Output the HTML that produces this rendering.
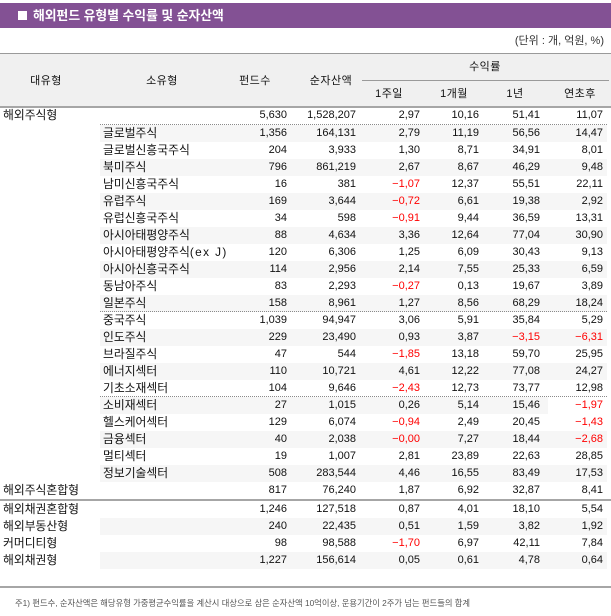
<!DOCTYPE html>
<html><head><meta charset="utf-8">
<style>
*{margin:0;padding:0;box-sizing:border-box}
html,body{width:611px;height:616px;background:#fff;overflow:hidden}
body{position:relative;font-family:"Liberation Sans","Noto Sans CJK KR",sans-serif;font-size:11px;color:#111}
.abs{position:absolute}
.title{left:0;top:3px;width:611px;height:25px;background:#835194;color:#fff;font-weight:bold;font-size:12.8px;line-height:25px;white-space:nowrap}
.sq{position:absolute;left:18px;top:8px;width:9px;height:9px;background:#fff}
.unit{right:7px;top:33px;font-size:11px;line-height:16px;color:#333;white-space:nowrap}
.hdr{left:0;top:54px;width:611px;height:53px;background:#f0f0f0}
.hl{left:0;width:611px;height:2px;background:#a6a6a6}
.h{position:absolute;line-height:16px;white-space:nowrap;transform:translateX(-50%);letter-spacing:0.5px}
.row{position:absolute;left:0;width:611px;height:17px;line-height:17px;white-space:nowrap}
.row>span{position:absolute;top:0}
.st{position:absolute;left:100px;width:507px;height:17px;background:#f6f6f6}
.dot{position:absolute;left:100px;width:507px;height:0;border-top:1px dotted #8a8a8a}
.r{color:#f00}
.c1{right:324px}.c2{right:255px}.c3{right:191px}.c4{right:132px}.c5{right:71px}.c6{right:8px}
.l1{left:3px;font-size:11.8px}.l2{left:103px;font-size:11.8px}
.foot{left:15px;top:596px;font-size:8.3px;line-height:14px;color:#555;white-space:nowrap}
</style></head><body>
<div class="abs title"><div class="sq"></div><span style="position:absolute;left:33px">해외펀드 유형별 수익률 및 순자산액</span></div>
<div class="abs unit">(단위 : 개, 억원, %)</div>
<div class="abs hdr"></div>
<div class="abs hl" style="top:53px;height:1px;background:#9a9a9a"></div>
<div class="abs hl" style="top:106px"></div>
<div class="abs" style="left:362px;top:80px;width:247px;height:1px;background:#9a9a9a"></div>
<div class="h" style="left:46px;top:73px">대유형</div>
<div class="h" style="left:162px;top:73px">소유형</div>
<div class="h" style="left:255px;top:73px">펀드수</div>
<div class="h" style="left:331px;top:73px">순자산액</div>
<div class="h" style="left:485px;top:59px">수익률</div>
<div class="h" style="left:389px;top:86px">1주일</div>
<div class="h" style="left:454px;top:86px">1개월</div>
<div class="h" style="left:515px;top:86px">1년</div>
<div class="h" style="left:580px;top:86px">연초후</div>

<!-- stripes -->
<div class="st" style="top:125px"></div>
<div class="st" style="top:159px"></div>
<div class="st" style="top:193px"></div>
<div class="st" style="top:227px"></div>
<div class="st" style="top:261px"></div>
<div class="st" style="top:295px"></div>
<div class="st" style="top:329px"></div>
<div class="st" style="top:363px"></div>
<div class="st" style="top:397px;width:448px"></div>
<div class="st" style="top:431px"></div>
<div class="st" style="top:465px"></div>
<div class="st" style="top:518px"></div>
<div class="st" style="top:552px"></div>

<div class="dot" style="top:124px"></div>
<div class="dot" style="top:311px"></div>
<div class="dot" style="top:396px"></div>

<div class="row" style="top:107px"><span class="l1">해외주식형</span><span class="c1">5,630</span><span class="c2">1,528,207</span><span class="c3">2,97</span><span class="c4">10,16</span><span class="c5">51,41</span><span class="c6">11,07</span></div>
<div class="row" style="top:125px"><span class="l2">글로벌주식</span><span class="c1">1,356</span><span class="c2">164,131</span><span class="c3">2,79</span><span class="c4">11,19</span><span class="c5">56,56</span><span class="c6">14,47</span></div>
<div class="row" style="top:142px"><span class="l2">글로벌신흥국주식</span><span class="c1">204</span><span class="c2">3,933</span><span class="c3">1,30</span><span class="c4">8,71</span><span class="c5">34,91</span><span class="c6">8,01</span></div>
<div class="row" style="top:159px"><span class="l2">북미주식</span><span class="c1">796</span><span class="c2">861,219</span><span class="c3">2,67</span><span class="c4">8,67</span><span class="c5">46,29</span><span class="c6">9,48</span></div>
<div class="row" style="top:176px"><span class="l2">남미신흥국주식</span><span class="c1">16</span><span class="c2">381</span><span class="c3 r">−1,07</span><span class="c4">12,37</span><span class="c5">55,51</span><span class="c6">22,11</span></div>
<div class="row" style="top:193px"><span class="l2">유럽주식</span><span class="c1">169</span><span class="c2">3,644</span><span class="c3 r">−0,72</span><span class="c4">6,61</span><span class="c5">19,38</span><span class="c6">2,92</span></div>
<div class="row" style="top:210px"><span class="l2">유럽신흥국주식</span><span class="c1">34</span><span class="c2">598</span><span class="c3 r">−0,91</span><span class="c4">9,44</span><span class="c5">36,59</span><span class="c6">13,31</span></div>
<div class="row" style="top:227px"><span class="l2">아시아태평양주식</span><span class="c1">88</span><span class="c2">4,634</span><span class="c3">3,36</span><span class="c4">12,64</span><span class="c5">77,04</span><span class="c6">30,90</span></div>
<div class="row" style="top:244px"><span class="l2">아시아태평양주식<span style="letter-spacing:1.4px">(ex J)</span></span><span class="c1">120</span><span class="c2">6,306</span><span class="c3">1,25</span><span class="c4">6,09</span><span class="c5">30,43</span><span class="c6">9,13</span></div>
<div class="row" style="top:261px"><span class="l2">아시아신흥국주식</span><span class="c1">114</span><span class="c2">2,956</span><span class="c3">2,14</span><span class="c4">7,55</span><span class="c5">25,33</span><span class="c6">6,59</span></div>
<div class="row" style="top:278px"><span class="l2">동남아주식</span><span class="c1">83</span><span class="c2">2,293</span><span class="c3 r">−0,27</span><span class="c4">0,13</span><span class="c5">19,67</span><span class="c6">3,89</span></div>
<div class="row" style="top:295px"><span class="l2">일본주식</span><span class="c1">158</span><span class="c2">8,961</span><span class="c3">1,27</span><span class="c4">8,56</span><span class="c5">68,29</span><span class="c6">18,24</span></div>
<div class="row" style="top:312px"><span class="l2">중국주식</span><span class="c1">1,039</span><span class="c2">94,947</span><span class="c3">3,06</span><span class="c4">5,91</span><span class="c5">35,84</span><span class="c6">5,29</span></div>
<div class="row" style="top:329px"><span class="l2">인도주식</span><span class="c1">229</span><span class="c2">23,490</span><span class="c3">0,93</span><span class="c4">3,87</span><span class="c5 r">−3,15</span><span class="c6 r">−6,31</span></div>
<div class="row" style="top:346px"><span class="l2">브라질주식</span><span class="c1">47</span><span class="c2">544</span><span class="c3 r">−1,85</span><span class="c4">13,18</span><span class="c5">59,70</span><span class="c6">25,95</span></div>
<div class="row" style="top:363px"><span class="l2">에너지섹터</span><span class="c1">110</span><span class="c2">10,721</span><span class="c3">4,61</span><span class="c4">12,22</span><span class="c5">77,08</span><span class="c6">24,27</span></div>
<div class="row" style="top:380px"><span class="l2">기초소재섹터</span><span class="c1">104</span><span class="c2">9,646</span><span class="c3 r">−2,43</span><span class="c4">12,73</span><span class="c5">73,77</span><span class="c6">12,98</span></div>
<div class="row" style="top:397px"><span class="l2">소비재섹터</span><span class="c1">27</span><span class="c2">1,015</span><span class="c3">0,26</span><span class="c4">5,14</span><span class="c5">15,46</span><span class="c6 r">−1,97</span></div>
<div class="row" style="top:414px"><span class="l2">헬스케어섹터</span><span class="c1">129</span><span class="c2">6,074</span><span class="c3 r">−0,94</span><span class="c4">2,49</span><span class="c5">20,45</span><span class="c6 r">−1,43</span></div>
<div class="row" style="top:431px"><span class="l2">금융섹터</span><span class="c1">40</span><span class="c2">2,038</span><span class="c3 r">−0,00</span><span class="c4">7,27</span><span class="c5">18,44</span><span class="c6 r">−2,68</span></div>
<div class="row" style="top:448px"><span class="l2">멀티섹터</span><span class="c1">19</span><span class="c2">1,007</span><span class="c3">2,81</span><span class="c4">23,89</span><span class="c5">22,63</span><span class="c6">28,85</span></div>
<div class="row" style="top:465px"><span class="l2">정보기술섹터</span><span class="c1">508</span><span class="c2">283,544</span><span class="c3">4,46</span><span class="c4">16,55</span><span class="c5">83,49</span><span class="c6">17,53</span></div>
<div class="row" style="top:482px"><span class="l1">해외주식혼합형</span><span class="c1">817</span><span class="c2">76,240</span><span class="c3">1,87</span><span class="c4">6,92</span><span class="c5">32,87</span><span class="c6">8,41</span></div>
<div class="abs hl" style="top:499px"></div>
<div class="row" style="top:501px"><span class="l1">해외채권혼합형</span><span class="c1">1,246</span><span class="c2">127,518</span><span class="c3">0,87</span><span class="c4">4,01</span><span class="c5">18,10</span><span class="c6">5,54</span></div>
<div class="row" style="top:518px"><span class="l1">해외부동산형</span><span class="c1">240</span><span class="c2">22,435</span><span class="c3">0,51</span><span class="c4">1,59</span><span class="c5">3,82</span><span class="c6">1,92</span></div>
<div class="row" style="top:535px"><span class="l1">커머디티형</span><span class="c1">98</span><span class="c2">98,588</span><span class="c3 r">−1,70</span><span class="c4">6,97</span><span class="c5">42,11</span><span class="c6">7,84</span></div>
<div class="row" style="top:552px"><span class="l1">해외채권형</span><span class="c1">1,227</span><span class="c2">156,614</span><span class="c3">0,05</span><span class="c4">0,61</span><span class="c5">4,78</span><span class="c6">0,64</span></div>
<div class="abs hl" style="top:586px"></div>
<div class="abs foot">주1) 펀드수, 순자산액은 해당유형 가중평균수익률을 계산시 대상으로 삼은 순자산액 10억이상, 운용기간이 2주가 넘는 펀드들의 합계</div>
</body></html>
